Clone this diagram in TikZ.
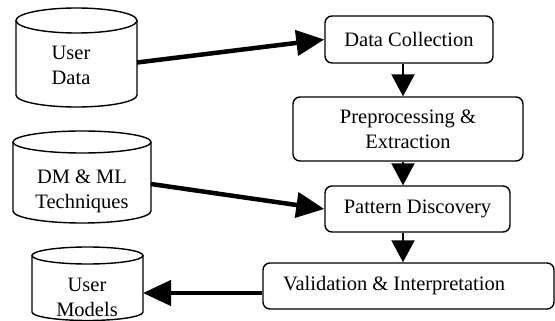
\documentclass[tikz,border=0pt]{standalone}
\usepackage{fontspec}
\setmainfont{Liberation Serif}
\usetikzlibrary{arrows.meta}
\tikzset{
  procbox/.style={draw, line width=1.4pt, rounded corners=7pt, inner sep=0pt, align=center},
  cylarea/.style={inner sep=0pt, outer sep=0pt},
  cyltext/.style={align=center, inner sep=0pt},
  cylline/.style={line width=1.4pt},
  harrow/.style={line width=4.5pt, -{Triangle[length=28pt,width=25pt]}},
  varrow/.style={line width=2pt, -{Triangle[length=22pt,width=23pt]}}
}
\begin{document}
\begin{tikzpicture}[x=1pt,y=1pt,font=\fontsize{20.5}{25}\selectfont]
\useasboundingbox (0,0) rectangle (555,-321);
% cylinders (areas)
\node[cylarea, minimum width=121pt, minimum height=99pt] (ud) at (76.5,-57.5) {};
\node[cylarea, minimum width=138pt, minimum height=92pt] (dm) at (82,-177) {};
\node[cylarea, minimum width=111pt, minimum height=74pt] (um) at (87.5,-284) {};
% User Data cylinder
\draw[cylline] (76.5,-20.5) ellipse [x radius=60.5, y radius=12.5];
\draw[cylline] (16,-20.5) -- (16,-95) arc [start angle=180, end angle=360, x radius=60.5, y radius=12] -- (137,-20.5);
% DM & ML cylinder
\draw[cylline] (82,-142) ellipse [x radius=69, y radius=11];
\draw[cylline] (13,-142) -- (13,-211) arc [start angle=180, end angle=360, x radius=69, y radius=12] -- (151,-142);
% User Models cylinder
\draw[cylline] (87.5,-255.5) ellipse [x radius=55.5, y radius=8.5];
\draw[cylline] (32,-255.5) -- (32,-312) arc [start angle=180, end angle=360, x radius=55.5, y radius=8.5] -- (143,-255.5);
% cylinder texts
\node[cyltext] (udt) at (71,-65) {User\\Data};
\node[cyltext] (dmt) at (82,-191) {DM \& ML\\Techniques};
\node[cyltext] (umt) at (87,-297) {User\\Models};
% process boxes
\node[procbox, minimum width=168pt, minimum height=47pt] (dc) at (409,-39.5) {Data Collection};
\node[procbox, minimum width=230pt, minimum height=64pt] (pp) at (408,-129) {Preprocessing \&\\Extraction};
\node[procbox, minimum width=185pt, minimum height=46pt] (pd) at (417.5,-209) {Pattern Discovery};
\node[procbox, minimum width=291pt, minimum height=46pt] (val) at (408.5,-286) {\makebox[251pt][l]{Validation \& Interpretation}};
% connectors
\coordinate (vx) at (403,0);
\draw[harrow] ([yshift=-5pt]ud.east) -- (dc.west);
\draw[harrow] ([yshift=-7pt]dm.east) -- (pd.west);
\draw[harrow] ([yshift=-7pt]val.west) -- ([yshift=-7pt]val.west -| um.east);
\draw[varrow] (vx |- dc.south) -- (vx |- pp.north);
\draw[varrow] (vx |- pp.south) -- (vx |- pd.north);
\draw[varrow] (vx |- pd.south) -- (vx |- val.north);
\end{tikzpicture}
\end{document}
